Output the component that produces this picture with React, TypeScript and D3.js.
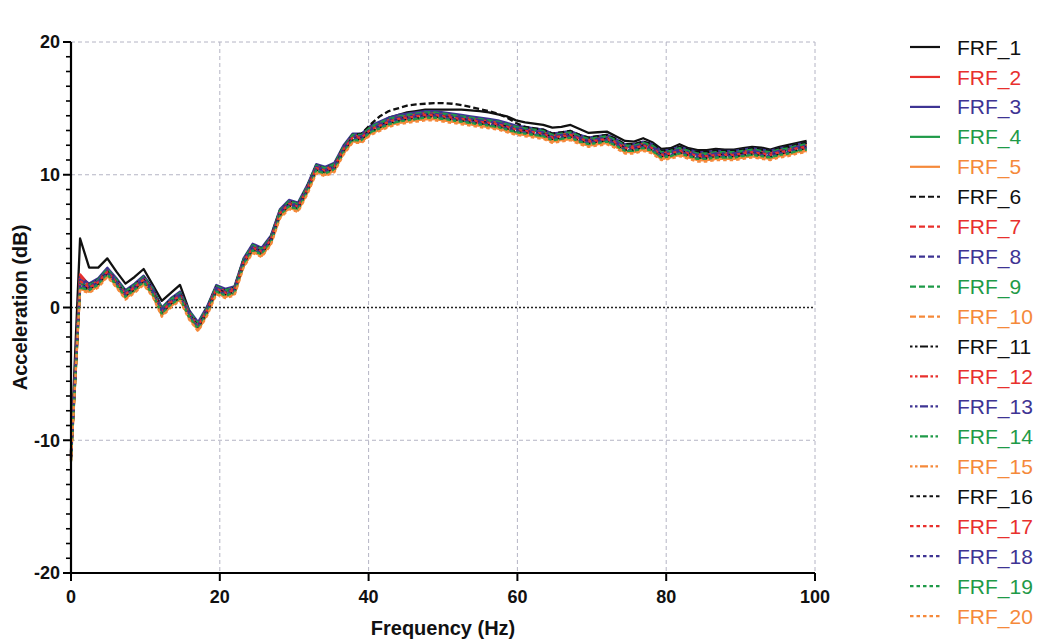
import React from "react";
import * as d3 from "d3";

// Frequency sampling grid (Hz): 82 points, spacing 1.2207 Hz
const FREQ_STEP = 1.2207;
const N_POINTS = 82;

const SERIES_NAMES = [
  "FRF_1", "FRF_2", "FRF_3", "FRF_4", "FRF_5",
  "FRF_6", "FRF_7", "FRF_8", "FRF_9", "FRF_10",
  "FRF_11", "FRF_12", "FRF_13", "FRF_14", "FRF_15",
  "FRF_16", "FRF_17", "FRF_18", "FRF_19", "FRF_20",
];

const X_TICKS = [0, 20, 40, 60, 80, 100];
const Y_TICKS = [-20, -10, 0, 10, 20];

const FRF_1 = [-10.8, 5.2, 3.0, 3.0, 3.7, 2.7, 1.8, 2.3, 2.9, 1.7,
  0.5, 1.1, 1.7, -0.2, -1.5, -0.3, 1.5, 1.2, 1.4, 3.5,
  4.6, 4.3, 5.2, 7.2, 7.9, 7.7, 9.0, 10.6, 10.4, 10.7,
  12.0, 12.9, 12.9, 13.5, 13.9, 14.3, 14.5, 14.7, 14.8, 14.9,
  14.9, 14.9, 14.9, 14.9, 14.85, 14.8, 14.7, 14.55, 14.4, 14.1,
  13.95, 13.85, 13.75, 13.55, 13.6, 13.75, 13.45, 13.15, 13.2, 13.25,
  12.9, 12.55, 12.5, 12.75, 12.45, 11.95, 12.0, 12.3, 12.0, 11.85,
  11.85, 11.95, 11.9, 11.9, 12.0, 12.1, 12.05, 11.9, 12.1, 12.25,
  12.4, 12.55];
const FRF_2 = [-11.0, 2.5, 1.7, 2.1, 2.9, 2.1, 1.2, 1.7, 2.3, 1.4,
  -0.1, 0.6, 1.1, -0.3, -1.2, 0.0, 1.6, 1.3, 1.5, 3.6,
  4.7, 4.4, 5.3, 7.3, 8.0, 7.8, 9.1, 10.7, 10.5, 10.8,
  12.1, 13.0, 13.0, 13.6, 13.9, 14.2, 14.4, 14.5, 14.6, 14.7,
  14.7, 14.6, 14.5, 14.4, 14.3, 14.2, 14.1, 14.0, 13.8, 13.6,
  13.5, 13.4, 13.3, 13.0, 13.1, 13.2, 12.9, 12.7, 12.8, 12.9,
  12.6, 12.2, 12.2, 12.4, 12.2, 11.7, 11.8, 12.0, 11.8, 11.6,
  11.6, 11.7, 11.7, 11.7, 11.8, 11.9, 11.8, 11.7, 11.9, 12.0,
  12.2, 12.3];
const FRF_3 = [-10.9, 2.3, 1.8, 2.2, 3.0, 2.2, 1.3, 1.8, 2.4, 1.5,
  0.0, 0.7, 1.2, -0.2, -1.1, 0.1, 1.7, 1.4, 1.6, 3.7,
  4.8, 4.5, 5.4, 7.4, 8.1, 7.9, 9.2, 10.8, 10.6, 10.9,
  12.2, 13.1, 13.1, 13.7, 14.0, 14.3, 14.5, 14.6, 14.7, 14.8,
  14.8, 14.7, 14.6, 14.5, 14.4, 14.3, 14.2, 14.1, 13.9, 13.7,
  13.6, 13.5, 13.4, 13.1, 13.2, 13.3, 13.0, 12.8, 12.9, 13.0,
  12.7, 12.3, 12.3, 12.5, 12.3, 11.8, 11.9, 12.1, 11.9, 11.7,
  11.7, 11.8, 11.8, 11.8, 11.9, 12.0, 11.9, 11.8, 12.0, 12.1,
  12.3, 12.4];
const FRF_4 = [-11.1, 1.8, 1.6, 2.0, 2.8, 2.0, 1.1, 1.6, 2.2, 1.3,
  -0.2, 0.5, 1.0, -0.4, -1.3, -0.1, 1.5, 1.2, 1.4, 3.5,
  4.6, 4.3, 5.2, 7.2, 7.9, 7.7, 9.0, 10.6, 10.4, 10.7,
  12.0, 12.9, 12.9, 13.5, 13.8, 14.1, 14.3, 14.4, 14.5, 14.6,
  14.6, 14.5, 14.4, 14.3, 14.2, 14.1, 14.0, 13.9, 13.7, 13.5,
  13.4, 13.3, 13.2, 12.9, 13.0, 13.1, 12.8, 12.6, 12.7, 12.8,
  12.5, 12.1, 12.1, 12.3, 12.1, 11.6, 11.7, 11.9, 11.7, 11.5,
  11.5, 11.6, 11.6, 11.6, 11.7, 11.8, 11.7, 11.6, 11.8, 11.9,
  12.1, 12.2];
const FRF_5 = [-11.5, 1.4, 1.2, 1.6, 2.4, 1.6, 0.7, 1.2, 1.8, 0.9,
  -0.6, 0.1, 0.6, -0.8, -1.7, -0.5, 1.1, 0.8, 1.0, 3.1,
  4.2, 3.9, 4.8, 6.8, 7.5, 7.3, 8.6, 10.2, 10.0, 10.3,
  11.6, 12.5, 12.5, 13.1, 13.4, 13.7, 13.9, 14.0, 14.1, 14.2,
  14.2, 14.1, 14.0, 13.9, 13.8, 13.7, 13.6, 13.5, 13.3, 13.1,
  13.0, 12.9, 12.8, 12.5, 12.6, 12.7, 12.4, 12.2, 12.3, 12.4,
  12.1, 11.7, 11.7, 11.9, 11.7, 11.2, 11.3, 11.5, 11.3, 11.1,
  11.1, 11.2, 11.2, 11.2, 11.3, 11.4, 11.3, 11.2, 11.4, 11.5,
  11.7, 11.8];
const FRF_6 = [-10.9, 2.0, 1.7, 2.1, 2.8, 2.1, 1.2, 1.7, 2.3, 1.4,
  -0.1, 0.6, 1.1, -0.3, -1.3, 0.0, 1.6, 1.3, 1.5, 3.6,
  4.7, 4.4, 5.3, 7.3, 8.0, 7.8, 9.1, 10.7, 10.5, 10.8,
  12.1, 13.0, 13.1, 13.8, 14.4, 14.8, 15.0, 15.2, 15.3, 15.35,
  15.4, 15.4, 15.35, 15.25, 15.1, 14.95, 14.8, 14.6, 14.3, 13.9,
  13.6, 13.5, 13.4, 13.1, 13.2, 13.3, 13.0, 12.8, 12.9, 13.0,
  12.7, 12.3, 12.3, 12.5, 12.3, 11.8, 11.9, 12.1, 11.9, 11.7,
  11.7, 11.8, 11.8, 11.8, 11.9, 12.0, 11.9, 11.8, 12.0, 12.1,
  12.3, 12.4];
const FRF_7 = [-11.1, 2.4, 1.6, 2.0, 2.8, 2.0, 1.1, 1.6, 2.2, 1.3,
  -0.2, 0.5, 1.0, -0.4, -1.3, -0.1, 1.5, 1.2, 1.4, 3.5,
  4.6, 4.3, 5.2, 7.2, 7.9, 7.7, 9.0, 10.6, 10.4, 10.7,
  12.0, 12.9, 12.9, 13.5, 13.8, 14.1, 14.3, 14.4, 14.5, 14.6,
  14.6, 14.5, 14.4, 14.3, 14.2, 14.1, 14.0, 13.9, 13.7, 13.5,
  13.4, 13.3, 13.2, 12.9, 13.0, 13.1, 12.8, 12.6, 12.7, 12.8,
  12.5, 12.1, 12.1, 12.3, 12.1, 11.6, 11.7, 11.9, 11.7, 11.5,
  11.5, 11.6, 11.6, 11.6, 11.7, 11.8, 11.7, 11.6, 11.8, 11.9,
  12.1, 12.2];
const FRF_8 = [-11.2, 1.9, 1.5, 1.9, 2.7, 1.9, 1.0, 1.5, 2.1, 1.2,
  -0.3, 0.4, 0.9, -0.5, -1.4, -0.2, 1.4, 1.1, 1.3, 3.4,
  4.5, 4.2, 5.1, 7.1, 7.8, 7.6, 8.9, 10.5, 10.3, 10.6,
  11.9, 12.8, 12.8, 13.4, 13.7, 14.0, 14.2, 14.3, 14.4, 14.5,
  14.5, 14.4, 14.3, 14.2, 14.1, 14.0, 13.9, 13.8, 13.6, 13.4,
  13.3, 13.2, 13.1, 12.8, 12.9, 13.0, 12.7, 12.5, 12.6, 12.7,
  12.4, 12.0, 12.0, 12.2, 12.0, 11.5, 11.6, 11.8, 11.6, 11.4,
  11.4, 11.5, 11.5, 11.5, 11.6, 11.7, 11.6, 11.5, 11.7, 11.8,
  12.0, 12.1];
const FRF_9 = [-11.0, 1.9, 1.7, 2.1, 2.9, 2.1, 1.2, 1.7, 2.3, 1.4,
  -0.1, 0.6, 1.1, -0.3, -1.2, 0.0, 1.6, 1.3, 1.5, 3.6,
  4.7, 4.4, 5.3, 7.3, 8.0, 7.8, 9.1, 10.7, 10.5, 10.8,
  12.1, 13.0, 13.0, 13.6, 13.9, 14.2, 14.4, 14.5, 14.6, 14.7,
  14.7, 14.6, 14.5, 14.4, 14.3, 14.2, 14.1, 14.0, 13.8, 13.6,
  13.5, 13.4, 13.3, 13.0, 13.1, 13.2, 12.9, 12.7, 12.8, 12.9,
  12.6, 12.2, 12.2, 12.4, 12.2, 11.7, 11.8, 12.0, 11.8, 11.6,
  11.6, 11.7, 11.7, 11.7, 11.8, 11.9, 11.8, 11.7, 11.9, 12.0,
  12.2, 12.3];
const FRF_10 = [-11.4, 1.5, 1.3, 1.7, 2.5, 1.7, 0.8, 1.3, 1.9, 1.0,
  -0.5, 0.2, 0.7, -0.7, -1.6, -0.4, 1.2, 0.9, 1.1, 3.2,
  4.3, 4.0, 4.9, 6.9, 7.6, 7.4, 8.7, 10.3, 10.1, 10.4,
  11.7, 12.6, 12.6, 13.2, 13.5, 13.8, 14.0, 14.1, 14.2, 14.3,
  14.3, 14.2, 14.1, 14.0, 13.9, 13.8, 13.7, 13.6, 13.4, 13.2,
  13.1, 13.0, 12.9, 12.6, 12.7, 12.8, 12.5, 12.3, 12.4, 12.5,
  12.2, 11.8, 11.8, 12.0, 11.8, 11.3, 11.4, 11.6, 11.4, 11.2,
  11.2, 11.3, 11.3, 11.3, 11.4, 11.5, 11.4, 11.3, 11.5, 11.6,
  11.8, 11.9];
const FRF_11 = [-11.2, 1.7, 1.5, 1.9, 2.7, 1.9, 1.0, 1.5, 2.1, 1.2,
  -0.3, 0.4, 0.9, -0.5, -1.4, -0.2, 1.4, 1.1, 1.3, 3.4,
  4.5, 4.2, 5.1, 7.1, 7.8, 7.6, 8.9, 10.5, 10.3, 10.6,
  11.9, 12.8, 12.8, 13.4, 13.7, 14.0, 14.2, 14.3, 14.4, 14.5,
  14.5, 14.4, 14.3, 14.2, 14.1, 14.0, 13.9, 13.8, 13.6, 13.4,
  13.3, 13.2, 13.1, 12.8, 12.9, 13.0, 12.7, 12.5, 12.6, 12.7,
  12.4, 12.0, 12.0, 12.2, 12.0, 11.5, 11.6, 11.8, 11.6, 11.4,
  11.4, 11.5, 11.5, 11.5, 11.6, 11.7, 11.6, 11.5, 11.7, 11.8,
  12.0, 12.1];
const FRF_12 = [-11.3, 1.6, 1.4, 1.8, 2.6, 1.8, 0.9, 1.4, 2.0, 1.1,
  -0.4, 0.3, 0.8, -0.6, -1.5, -0.3, 1.3, 1.0, 1.2, 3.3,
  4.4, 4.1, 5.0, 7.0, 7.7, 7.5, 8.8, 10.4, 10.2, 10.5,
  11.8, 12.7, 12.7, 13.3, 13.6, 13.9, 14.1, 14.2, 14.3, 14.4,
  14.4, 14.3, 14.2, 14.1, 14.0, 13.9, 13.8, 13.7, 13.5, 13.3,
  13.2, 13.1, 13.0, 12.7, 12.8, 12.9, 12.6, 12.4, 12.5, 12.6,
  12.3, 11.9, 11.9, 12.1, 11.9, 11.4, 11.5, 11.7, 11.5, 11.3,
  11.3, 11.4, 11.4, 11.4, 11.5, 11.6, 11.5, 11.4, 11.6, 11.7,
  11.9, 12.0];
const FRF_13 = [-11.1, 2.1, 1.6, 2.0, 2.8, 2.0, 1.1, 1.6, 2.2, 1.3,
  -0.2, 0.5, 1.0, -0.4, -1.3, -0.1, 1.5, 1.2, 1.4, 3.5,
  4.6, 4.3, 5.2, 7.2, 7.9, 7.7, 9.0, 10.6, 10.4, 10.7,
  12.0, 12.9, 12.9, 13.5, 13.8, 14.1, 14.3, 14.4, 14.5, 14.6,
  14.6, 14.5, 14.4, 14.3, 14.2, 14.1, 14.0, 13.9, 13.7, 13.5,
  13.4, 13.3, 13.2, 12.9, 13.0, 13.1, 12.8, 12.6, 12.7, 12.8,
  12.5, 12.1, 12.1, 12.3, 12.1, 11.6, 11.7, 11.9, 11.7, 11.5,
  11.5, 11.6, 11.6, 11.6, 11.7, 11.8, 11.7, 11.6, 11.8, 11.9,
  12.1, 12.2];
const FRF_14 = [-11.6, 1.5, 1.3, 1.7, 2.5, 1.7, 0.8, 1.3, 1.9, 1.0,
  -0.5, 0.2, 0.7, -0.7, -1.6, -0.4, 1.2, 0.9, 1.1, 3.2,
  4.3, 4.0, 4.9, 6.9, 7.6, 7.4, 8.7, 10.3, 10.1, 10.4,
  11.7, 12.6, 12.6, 13.2, 13.5, 13.8, 14.0, 14.1, 14.2, 14.3,
  14.3, 14.2, 14.1, 14.0, 13.9, 13.8, 13.7, 13.6, 13.4, 13.2,
  13.1, 13.0, 12.9, 12.6, 12.7, 12.8, 12.5, 12.3, 12.4, 12.5,
  12.2, 11.8, 11.8, 12.0, 11.8, 11.3, 11.4, 11.6, 11.4, 11.2,
  11.2, 11.3, 11.3, 11.3, 11.4, 11.5, 11.4, 11.3, 11.5, 11.6,
  11.8, 11.9];
const FRF_15 = [-11.5, 1.4, 1.2, 1.6, 2.4, 1.6, 0.7, 1.2, 1.8, 0.9,
  -0.6, 0.1, 0.6, -0.8, -1.7, -0.5, 1.1, 0.8, 1.0, 3.1,
  4.2, 3.9, 4.8, 6.8, 7.5, 7.3, 8.6, 10.2, 10.0, 10.3,
  11.6, 12.5, 12.5, 13.1, 13.4, 13.7, 13.9, 14.0, 14.1, 14.2,
  14.2, 14.1, 14.0, 13.9, 13.8, 13.7, 13.6, 13.5, 13.3, 13.1,
  13.0, 12.9, 12.8, 12.5, 12.6, 12.7, 12.4, 12.2, 12.3, 12.4,
  12.1, 11.7, 11.7, 11.9, 11.7, 11.2, 11.3, 11.5, 11.3, 11.1,
  11.1, 11.2, 11.2, 11.2, 11.3, 11.4, 11.3, 11.2, 11.4, 11.5,
  11.7, 11.8];
const FRF_16 = [-11.3, 1.6, 1.4, 1.8, 2.6, 1.8, 0.9, 1.4, 2.0, 1.1,
  -0.4, 0.3, 0.8, -0.6, -1.5, -0.3, 1.3, 1.0, 1.2, 3.3,
  4.4, 4.1, 5.0, 7.0, 7.7, 7.5, 8.8, 10.4, 10.2, 10.5,
  11.8, 12.7, 12.7, 13.3, 13.6, 13.9, 14.1, 14.2, 14.3, 14.4,
  14.4, 14.3, 14.2, 14.1, 14.0, 13.9, 13.8, 13.7, 13.5, 13.3,
  13.2, 13.1, 13.0, 12.7, 12.8, 12.9, 12.6, 12.4, 12.5, 12.6,
  12.3, 11.9, 11.9, 12.1, 11.9, 11.4, 11.5, 11.7, 11.5, 11.3,
  11.3, 11.4, 11.4, 11.4, 11.5, 11.6, 11.5, 11.4, 11.6, 11.7,
  11.9, 12.0];
const FRF_17 = [-11.2, 2.0, 1.5, 1.9, 2.7, 1.9, 1.0, 1.5, 2.1, 1.2,
  -0.3, 0.4, 0.9, -0.5, -1.4, -0.2, 1.4, 1.1, 1.3, 3.4,
  4.5, 4.2, 5.1, 7.1, 7.8, 7.6, 8.9, 10.5, 10.3, 10.6,
  11.9, 12.8, 12.8, 13.4, 13.7, 14.0, 14.2, 14.3, 14.4, 14.5,
  14.5, 14.4, 14.3, 14.2, 14.1, 14.0, 13.9, 13.8, 13.6, 13.4,
  13.3, 13.2, 13.1, 12.8, 12.9, 13.0, 12.7, 12.5, 12.6, 12.7,
  12.4, 12.0, 12.0, 12.2, 12.0, 11.5, 11.6, 11.8, 11.6, 11.4,
  11.4, 11.5, 11.5, 11.5, 11.6, 11.7, 11.6, 11.5, 11.7, 11.8,
  12.0, 12.1];
const FRF_18 = [-11.3, 1.7, 1.4, 1.8, 2.6, 1.8, 0.9, 1.4, 2.0, 1.1,
  -0.4, 0.3, 0.8, -0.6, -1.5, -0.3, 1.3, 1.0, 1.2, 3.3,
  4.4, 4.1, 5.0, 7.0, 7.7, 7.5, 8.8, 10.4, 10.2, 10.5,
  11.8, 12.7, 12.7, 13.3, 13.6, 13.9, 14.1, 14.2, 14.3, 14.4,
  14.4, 14.3, 14.2, 14.1, 14.0, 13.9, 13.8, 13.7, 13.5, 13.3,
  13.2, 13.1, 13.0, 12.7, 12.8, 12.9, 12.6, 12.4, 12.5, 12.6,
  12.3, 11.9, 11.9, 12.1, 11.9, 11.4, 11.5, 11.7, 11.5, 11.3,
  11.3, 11.4, 11.4, 11.4, 11.5, 11.6, 11.5, 11.4, 11.6, 11.7,
  11.9, 12.0];
const FRF_19 = [-11.5, 1.5, 1.3, 1.7, 2.5, 1.7, 0.8, 1.3, 1.9, 1.0,
  -0.5, 0.2, 0.7, -0.7, -1.6, -0.4, 1.2, 0.9, 1.1, 3.2,
  4.3, 4.0, 4.9, 6.9, 7.6, 7.4, 8.7, 10.3, 10.1, 10.4,
  11.7, 12.6, 12.6, 13.2, 13.5, 13.8, 14.0, 14.1, 14.2, 14.3,
  14.3, 14.2, 14.1, 14.0, 13.9, 13.8, 13.7, 13.6, 13.4, 13.2,
  13.1, 13.0, 12.9, 12.6, 12.7, 12.8, 12.5, 12.3, 12.4, 12.5,
  12.2, 11.8, 11.8, 12.0, 11.8, 11.3, 11.4, 11.6, 11.4, 11.2,
  11.2, 11.3, 11.3, 11.3, 11.4, 11.5, 11.4, 11.3, 11.5, 11.6,
  11.8, 11.9];
const FRF_20 = [-11.6, 1.3, 1.1, 1.5, 2.3, 1.5, 0.6, 1.1, 1.7, 0.8,
  -0.7, 0.0, 0.5, -0.9, -1.8, -0.6, 1.0, 0.7, 0.9, 3.0,
  4.1, 3.8, 4.7, 6.7, 7.4, 7.2, 8.5, 10.1, 9.9, 10.2,
  11.5, 12.4, 12.4, 13.0, 13.3, 13.6, 13.8, 13.9, 14.0, 14.1,
  14.1, 14.0, 13.9, 13.8, 13.7, 13.6, 13.5, 13.4, 13.2, 13.0,
  12.9, 12.8, 12.7, 12.4, 12.5, 12.6, 12.3, 12.1, 12.2, 12.3,
  12.0, 11.6, 11.6, 11.8, 11.6, 11.1, 11.2, 11.4, 11.2, 11.0,
  11.0, 11.1, 11.1, 11.1, 11.2, 11.3, 11.2, 11.1, 11.3, 11.4,
  11.6, 11.7];

const SERIES_VALUES = [
  FRF_1, FRF_2, FRF_3, FRF_4, FRF_5, FRF_6, FRF_7, FRF_8, FRF_9, FRF_10,
  FRF_11, FRF_12, FRF_13, FRF_14, FRF_15, FRF_16, FRF_17, FRF_18, FRF_19, FRF_20,
];

const COLORS = ["#111111", "#e8302d", "#3e3493", "#1f9a48", "#f5893a"];
const DASHES = ["", "6,3", "2.5,2.5,2.5,2.5,8,2.5", "3.5,3"];

const W = 1040;
const H = 641;
const PLOT = { left: 71, right: 815, top: 42, bottom: 573 };
const FONT = "'Liberation Sans', Arial, Helvetica, sans-serif";

export default function App() {
  const freq = d3.range(N_POINTS).map((i) => i * FREQ_STEP);
  const x = d3.scaleLinear().domain([0, 100]).range([PLOT.left, PLOT.right]);
  const y = d3.scaleLinear().domain([-20, 20]).range([PLOT.bottom, PLOT.top]);

  const line = d3
    .line<number>()
    .x((_, i) => x(freq[i]))
    .y((v) => y(v));

  const minorY: number[] = [];
  for (let k = 0; k < Y_TICKS.length - 1; k++) {
    const a = Y_TICKS[k];
    const b = Y_TICKS[k + 1];
    for (let m = 1; m < 9; m++) minorY.push(a + ((b - a) * m) / 9);
  }

  const gridColor = "#b4b4c4";

  return (
    <div style={{ position: "absolute", left: 0, top: 0 }}>
      <svg width={W} height={H} style={{ display: "block", background: "#ffffff" }}>
        {/* vertical grid */}
        {X_TICKS.filter((t) => t > 0).map((t) => (
          <line key={"gx" + t} x1={x(t)} x2={x(t)} y1={y(20)} y2={y(-20)}
            stroke={gridColor} strokeWidth={1} strokeDasharray="4,3" />
        ))}
        {/* horizontal grid */}
        {Y_TICKS.filter((t) => t !== 0 && t !== -20).map((t) => (
          <line key={"gy" + t} x1={x(0)} x2={x(100)} y1={y(t)} y2={y(t)}
            stroke={gridColor} strokeWidth={1} strokeDasharray="4,3" />
        ))}
        {/* zero line */}
        <line x1={x(0)} x2={x(100)} y1={y(0)} y2={y(0)} stroke="#222" strokeWidth={1.3} strokeDasharray="2,2" />

        {/* series */}
        {SERIES_VALUES.map((vals, s) => (
          <path key={SERIES_NAMES[s]} d={line(vals) || ""} fill="none"
            stroke={COLORS[s % 5]} strokeWidth={2.3}
            strokeDasharray={DASHES[Math.floor(s / 5)] || undefined}
            strokeLinejoin="round" />
        ))}

        {/* axes */}
        <line x1={x(0)} x2={x(0)} y1={y(20)} y2={y(-20) + 1} stroke="#000" strokeWidth={2.2} />
        <line x1={x(0) - 1} x2={x(100)} y1={y(-20)} y2={y(-20)} stroke="#000" strokeWidth={2.2} />
        {Y_TICKS.map((t) => (
          <g key={"yt" + t}>
            <line x1={x(0) - 8} x2={x(0)} y1={y(t)} y2={y(t)} stroke="#000" strokeWidth={2} />
            <text x={x(0) - 11} y={y(t)} dy="0.35em" textAnchor="end" fontFamily={FONT}
              fontWeight="bold" fontSize={18} fill="#111">{t}</text>
          </g>
        ))}
        {minorY.map((t, i) => (
          <line key={"ym" + i} x1={x(0) - 5} x2={x(0)} y1={y(t)} y2={y(t)} stroke="#000" strokeWidth={1.6} />
        ))}
        {X_TICKS.map((t) => (
          <g key={"xt" + t}>
            <line x1={x(t)} x2={x(t)} y1={y(-20)} y2={y(-20) + 8} stroke="#000" strokeWidth={2} />
            <text x={x(t)} y={y(-20) + 30} textAnchor="middle" fontFamily={FONT}
              fontWeight="bold" fontSize={18} fill="#111">{t}</text>
          </g>
        ))}
        <text x={(PLOT.left + PLOT.right) / 2} y={635} textAnchor="middle" fontFamily={FONT}
          fontWeight="bold" fontSize={20} fill="#111">Frequency (Hz)</text>
        <text transform={`translate(27, ${y(0)}) rotate(-90)`} textAnchor="middle" fontFamily={FONT}
          fontWeight="bold" fontSize={20} fill="#111">Acceleration (dB)</text>

        {/* legend */}
        {SERIES_NAMES.map((name, s) => {
          const ly = 47 + s * 29.95;
          return (
            <g key={"lg" + name}>
              <line x1={910} x2={940} y1={ly} y2={ly} stroke={COLORS[s % 5]} strokeWidth={2.2}
                strokeDasharray={DASHES[Math.floor(s / 5)] || undefined} />
              <text x={957} y={ly} dy="0.36em" fontFamily={FONT} fontSize={21}
                fill={COLORS[s % 5]}>{name}</text>
            </g>
          );
        })}
      </svg>
    </div>
  );
}
